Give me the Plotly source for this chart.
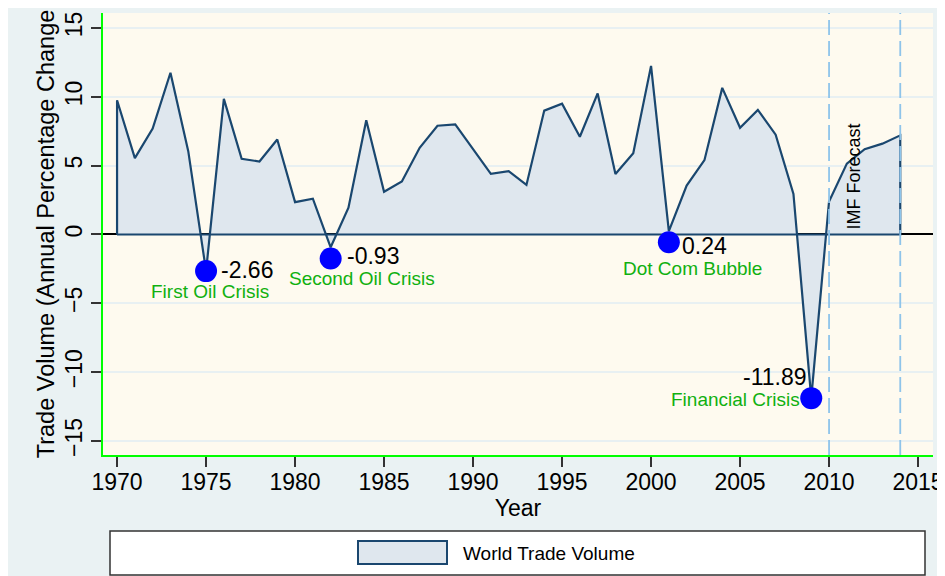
import plotly.graph_objects as go

# World trade volume, annual percentage change
years = list(range(1970, 2015))
trade_volume = [9.75, 5.55, 7.7, 11.75, 6.05, -2.66, 9.85, 5.5, 5.3, 6.9,
                2.35, 2.6, -0.93, 1.95, 8.3, 3.1, 3.85, 6.3, 7.9, 8.0,
                6.2, 4.4, 4.6, 3.6, 9.0, 9.5, 7.1, 10.25, 4.4, 5.9,
                12.25, 0.24, 3.55, 5.4, 10.65, 7.75, 9.05, 7.25, 2.95, -11.89,
                2.4, 5.15, 6.2, 6.6, 7.2]

# crisis markers
crisis_years = [1975, 1982, 2001, 2009]
crisis_marker_y = [-2.66, -1.74, -0.56, -11.89]
crisis_values = ["-2.66", "-0.93", "0.24", "-11.89"]
crisis_names = ["First Oil Crisis", "Second Oil Crisis", "Dot Com Bubble", "Financial Crisis"]

forecast_years = [2010, 2014]

# figure geometry (px); the page puts the figure 8px in from the top left
W, H = 945, 576
L, R, T, B = 95, 20, 5, 129
OFF = 8

def px_x(p):
    return (p - OFF - L) / (W - L - R)

def px_y(p):
    return (H - B - (p - OFF)) / (H - T - B)

FONT = "Liberation Sans, Arial, sans-serif"
NAVY = "#1a476f"
FILL = "#dfe7ee"
GREEN = "#10b010"

# closed outline of the area, so the end edges get drawn like in Stata
x_area = [years[0]] + years + [years[-1], years[0]]
y_area = [0] + trade_volume + [0, 0]

fig = go.Figure()
fig.add_trace(go.Scatter(x=x_area, y=y_area, mode="lines", fill="toself",
                         fillcolor=FILL, line=dict(color=NAVY, width=2.2),
                         name="World Trade Volume", showlegend=False,
                         hoverinfo="skip"))
fig.add_trace(go.Scatter(x=crisis_years, y=crisis_marker_y, mode="markers",
                         marker=dict(color="#0000ff", size=22),
                         showlegend=False))

# value labels and crisis names, offset in px from each marker
value_pos = [(14, 1, "left"), (15, 2, "left"), (12, -4, "left"), (-3, 21, "right")]
name_pos = [(4, -20, "center"), (31, -20, "center"), (24, -26, "center"), (-10, -1, "right")]

annotations = []
for i in range(len(crisis_years)):
    dx, dy, anc = value_pos[i]
    annotations.append(dict(x=crisis_years[i], y=crisis_marker_y[i], text=crisis_values[i],
                            showarrow=False, xanchor=anc, yanchor="middle",
                            xshift=dx, yshift=dy, borderpad=0,
                            font=dict(family=FONT, size=23, color="black")))
    dx, dy, anc = name_pos[i]
    annotations.append(dict(x=crisis_years[i], y=crisis_marker_y[i], text=crisis_names[i],
                            showarrow=False, xanchor=anc, yanchor="middle",
                            xshift=dx, yshift=dy, borderpad=0,
                            font=dict(family=FONT, size=19, color=GREEN)))

annotations.append(dict(x=forecast_years[0], y=0, text="IMF Forecast", textangle=-90,
                        showarrow=False, xanchor="center", yanchor="bottom",
                        xshift=25, yshift=3,
                        font=dict(family=FONT, size=18, color="black")))

# legend drawn by hand (Stata style wide box)
annotations.append(dict(xref="paper", yref="paper", x=px_x(461), y=px_y(553),
                        text="World Trade Volume", showarrow=False,
                        xanchor="left", yanchor="middle",
                        font=dict(family=FONT, size=19, color="black")))

shapes = []
for fy in forecast_years:
    shapes.append(dict(type="line", xref="x", yref="paper", x0=fy, x1=fy, y0=0, y1=1,
                       line=dict(color="#8ec4ea", width=1.8, dash="15px,6px"),
                       layer="above"))

# legend box and key
shapes.append(dict(type="rect", xref="paper", yref="paper",
                   x0=px_x(110), x1=px_x(925), y0=px_y(575), y1=px_y(531),
                   fillcolor="white", line=dict(color="#333333", width=1.5)))
shapes.append(dict(type="rect", xref="paper", yref="paper",
                   x0=px_x(358), x1=px_x(447), y0=px_y(564), y1=px_y(541),
                   fillcolor=FILL, line=dict(color=NAVY, width=2)))

fig.update_layout(
    width=W, height=H,
    margin=dict(l=L, r=R, t=T, b=B, pad=0),
    paper_bgcolor="#eaf2f3",
    plot_bgcolor="#fefaef",
    font=dict(family=FONT, size=23, color="black"),
    showlegend=False,
    annotations=annotations,
    shapes=shapes,
)

fig.update_xaxes(range=[1969.21, 2015.84], tick0=1970, dtick=5,
                 ticks="outside", ticklen=10, tickwidth=1.5, tickcolor="#333333",
                 ticklabelstandoff=-4,
                 showline=True, linecolor="#00ff00", linewidth=1.5,
                 showgrid=False, zeroline=False,
                 tickfont=dict(size=23),
                 title=dict(text="Year", font=dict(size=23), standoff=0))
fig.update_yaxes(range=[-16.02, 16.09], tick0=0, dtick=5,
                 ticks="outside", ticklen=10, tickwidth=1.5, tickcolor="#333333",
                 tickangle=-90,
                 showline=True, linecolor="#00ff00", linewidth=1.5,
                 showgrid=True, gridcolor="#e8f0f2", gridwidth=1.6,
                 zeroline=True, zerolinecolor="black", zerolinewidth=1.5,
                 tickfont=dict(size=23),
                 title=dict(text="Trade Volume (Annual Percentage Change",
                            font=dict(size=23.5), standoff=0))

fig.write_html("out.html")
